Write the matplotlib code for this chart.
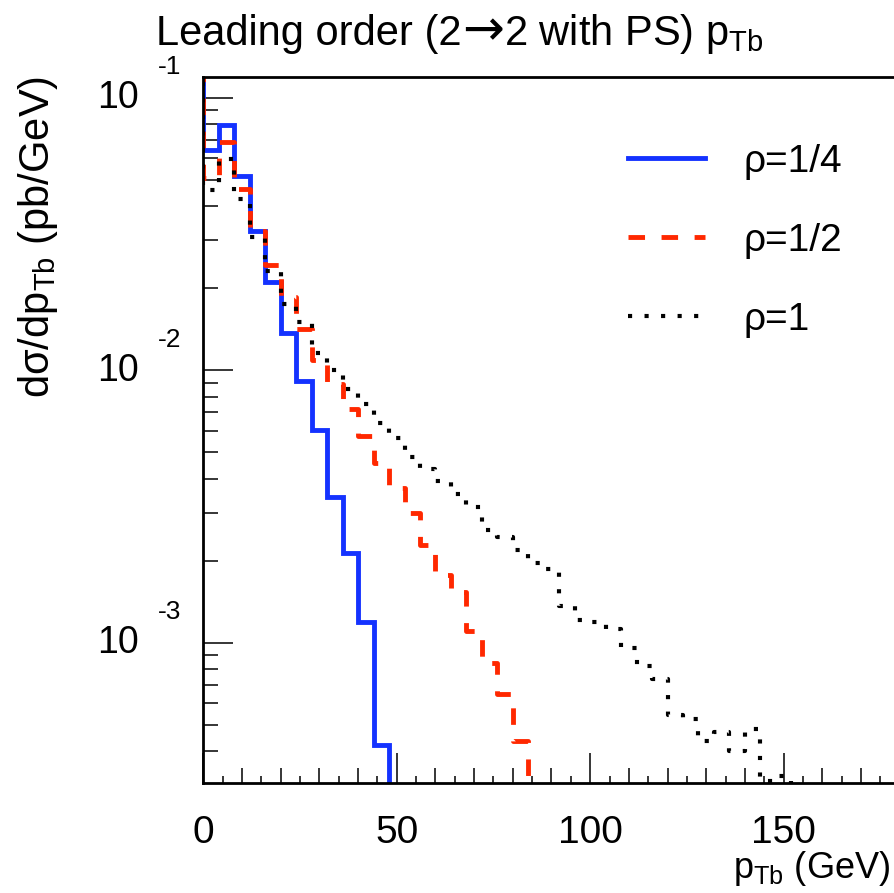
import numpy as np
import matplotlib
matplotlib.use("Agg")
import matplotlib.pyplot as plt
from matplotlib.ticker import FixedLocator, LogLocator, NullFormatter

# p_Tb bins of 4 GeV starting at 0
bin_width = 4.0
rho_quarter = [0.0642, 0.0793, 0.0515, 0.0324, 0.02106, 0.01369, 0.00913, 0.00604,
               0.00343, 0.002137, 0.001193, 0.000422]
rho_half = [0.0507, 0.0689, 0.0462, 0.0324, 0.0243, 0.01855, 0.01416, 0.01090,
            0.00890, 0.00721, 0.00574, 0.00457, 0.00370, 0.00299, 0.002286,
            0.001774, 0.001537, 0.001106, 0.000844, 0.000650, 0.000437]
rho_one = [0.0458, 0.0595, 0.0424, 0.0308, 0.0231, 0.01749, 0.01502, 0.01161,
           0.01002, 0.00853, 0.00752, 0.00640, 0.00564, 0.00480, 0.00434,
           0.00392, 0.00352, 0.00315, 0.00259, 0.00245, 0.00219, 0.00196,
           0.00187, 0.001366, 0.001213, 0.001193, 0.001125, 0.000958, 0.000823,
           0.000737, 0.000544, 0.000526, 0.000437, 0.000471, 0.000401, 0.000483,
           0.000312, 0.000325]
labels = ["\u03c1=1/4", "\u03c1=1/2", "\u03c1=1"]

plt.rcParams['font.family'] = ['Liberation Sans', 'DejaVu Sans']
plt.rcParams['mathtext.default'] = 'regular'

fig = plt.figure(figsize=(8.95, 8.93), dpi=100)
ax = fig.add_axes([0.2273, 0.1232, 0.7778, 0.7906])


def hist_path(vals):
    # ROOT style outline: comes in from the top at x=0 and drops out at the end
    edges = np.arange(len(vals) + 1) * bin_width
    x = np.concatenate([[0.0], np.repeat(edges, 2)[1:-1], [edges[-1]]])
    y = np.concatenate([[1.0], np.repeat(vals, 2), [1e-6]])
    return x, y


lw = 3.5
x, y = hist_path(rho_quarter)
ax.plot(x, y, color='#1432ff', lw=lw, solid_joinstyle='miter', label=labels[0])
x, y = hist_path(rho_half)
ax.plot(x, y, color='#ff2800', lw=lw, dashes=(3.4, 3.4), dash_capstyle='butt',
        label=labels[1])
x, y = hist_path(rho_one)
ax.plot(x, y, color='black', lw=lw * 0.85, dashes=(1, 3.0), dash_capstyle='butt',
        label=labels[2])

ax.set_yscale('log')
ax.set_xlim(0, 180)
ax.set_ylim(3.06e-4, 0.119)

for s in ax.spines.values():
    s.set_linewidth(2)

ax.tick_params(axis='both', which='both', direction='in', width=1.1,
               top=False, right=False, labelbottom=False, labelleft=False)
ax.tick_params(axis='both', which='major', length=21.6)
ax.tick_params(axis='both', which='minor', length=10.8)

ax.xaxis.set_major_locator(FixedLocator([0, 50, 100, 150]))
minor_x = [m for m in range(5, 180, 5) if m % 50]
ax.xaxis.set_minor_locator(FixedLocator(minor_x))
for pos, t in zip(minor_x, ax.xaxis.get_minor_ticks(len(minor_x))):
    if pos % 10:
        t.tick1line.set_markersize(5)

ax.yaxis.set_major_locator(LogLocator(base=10))
ax.yaxis.set_minor_locator(LogLocator(base=10, subs=np.arange(2, 10)))
ax.yaxis.set_major_formatter(NullFormatter())
ax.yaxis.set_minor_formatter(NullFormatter())

# x tick labels
for v in [0, 50, 100, 150]:
    ax.annotate(str(v), xy=(v, 0), xycoords=('data', 'axes fraction'),
                xytext=(0, -23), textcoords='offset points',
                ha='center', va='top', fontsize=28)

# y tick labels, ROOT style 10 with raised exponent
for e in [-1, -2, -3]:
    ax.annotate("10", xy=(0, 10.0 ** e), xycoords=('axes fraction', 'data'),
                xytext=(-46.5, -0.5), textcoords='offset points',
                ha='right', va='center', fontsize=27)
    ax.annotate(str(e), xy=(0, 10.0 ** e), xycoords=('axes fraction', 'data'),
                xytext=(-33, 22), textcoords='offset points',
                ha='left', va='center', fontsize=19)

# title in three pieces so the arrow can come from DejaVu at a larger size
title_y = 1 - 45 / 893
pieces = [fig.text(0, title_y, "Leading order (2", va='baseline', fontsize=30),
          fig.text(0, title_y, "\u2192", va='baseline', fontsize=36,
                   family='DejaVu Sans'),
          fig.text(0, title_y, "2 with PS) $p_{Tb}$", va='baseline', fontsize=30)]
renderer = fig.canvas.get_renderer()
widths = [p.get_window_extent(renderer).width for p in pieces]
xpos = 460 - sum(widths) / 2
for p, w in zip(pieces, widths):
    p.set_x(xpos / 895)
    xpos += w

fig.text(0.995, 1 - 868 / 893, "$p_{Tb}$ (GeV)", ha='right', va='center',
         fontsize=26)
fig.text(0.042, 1 - 76 / 893, "d\u03c3/d$p_{Tb}$ (pb/GeV)", ha='center',
         va='top', rotation=90, fontsize=30)

ax.legend(loc='upper left', bbox_to_anchor=(628 / 895, 1 - 144 / 893),
          bbox_transform=fig.transFigure, frameon=False, fontsize=28,
          handlelength=1.97, handletextpad=1.0, labelspacing=1.1,
          borderpad=0, borderaxespad=0)

fig.savefig("out.png", dpi=100)
